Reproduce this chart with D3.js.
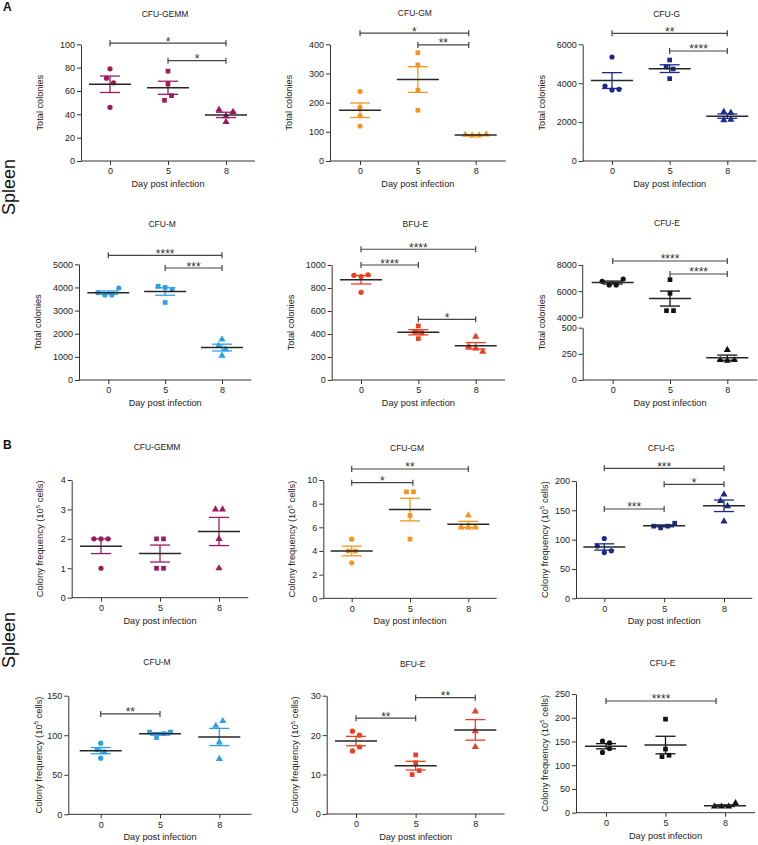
<!DOCTYPE html>
<html><head><meta charset="utf-8">
<script src="https://cdn.jsdelivr.net/npm/d3@7"></script>
<style>body{margin:0;background:#fff} text{font-family:"Liberation Sans",Arial,sans-serif}</style>
</head><body><svg id="c" width="758" height="845"></svg>
<script>
const days = ["0", "5", "8"];
const panelTitles = ["CFU-GEMM", "CFU-GM", "CFU-G", "CFU-M", "BFU-E", "CFU-E"];
const colors = ["#9B1B5E", "#F7941D", "#1A2A8C", "#2B9FE8", "#EE3D23", "#111111"];

// Panel A: total colonies (per day group: 0, 5, 8)
const totalGEMM = [[79, 71, 67, 46], [77, 66, 52, 56], [44, 38.5, 42, 33.5]];
const totalGM   = [[238, 183, 155, 120], [371, 329, 243, 174], [90, 87, 88, 91]];
const totalG    = [[5349, 3857, 3651, 3686], [5194, 4834, 4731, 4234], [2520, 2480, 2100, 2120]];
const totalM    = [[3775, 3674, 3674, 3977], [4050, 4000, 3900, 3350], [1758, 1470, 1326, 1052]];
const totalBFUE = [[910, 900, 915, 762], [470, 420, 410, 360], [377, 290, 275, 247]];
const totalE    = [[6752, 6471, 6471, 6930], [6879, 5834, 4510, 4510], [287, 191, 185, 191]];

// Panel B: colony frequency (per 10^5 cells)
const freqGEMM = [[2, 2, 2, 1], [2, 2, 1, 1], [3, 3, 2, 1]];
const freqGM   = [[5, 4, 4, 3], [9, 9, 7, 5], [7, 6, 6, 6]];
const freqG    = [[102, 89, 78, 81], [123, 120, 123, 128], [177, 166, 157, 131]];
const freqM    = [[90, 82, 79, 71], [104, 97, 102, 104], [112, 118, 91, 70]];
const freqBFUE = [[21, 20, 16, 17], [15, 13, 10, 11], [26, 21, 17]];
const freqE    = [[151, 147, 127, 135], [197, 134, 118, 121], [13, 13, 13, 20]];

// Y tick labels
const ticksTotalGEMM = [0, 20, 40, 60, 80, 100];
const ticksTotalGM = [0, 100, 200, 300, 400];
const ticksTotalG = [0, 2000, 4000, 6000];
const ticksTotalM = [0, 1000, 2000, 3000, 4000, 5000];
const ticksTotalBFUE = [0, 200, 400, 600, 800, 1000];
const ticksTotalEUpper = [4000, 6000, 8000];
const ticksTotalELower = [0, 250, 500];
const ticksFreqGEMM = [0, 1, 2, 3, 4];
const ticksFreqGM = [0, 2, 4, 6, 8, 10];
const ticksFreqG = [0, 50, 100, 150, 200];
const ticksFreqM = [0, 50, 100, 150];
const ticksFreqBFUE = [0, 10, 20, 30];
const ticksFreqE = [0, 50, 100, 150, 200, 250];

// Significance brackets: [from group, to group, label, level (data units)]
const sigTotalGEMM = [[0, 2, "*", 101], [1, 2, "*", 86]];
const sigTotalGM = [[0, 1.88, "*", 438], [1, 1.88, "**", 398]];
const sigTotalG = [[0, 2, "**", 6566], [1, 2, "****", 5656]];
const sigTotalM = [[0, 2, "****", 5386], [1, 2, "***", 4840]];
const sigTotalBFUE = [[0, 2, "****", 1137], [0, 1, "****", 1000], [1, 2, "*", 528]];
const sigTotalE = [[0, 2, "****", 8306], [1, 2, "****", 7312]];
const sigFreqGEMM = [];
const sigFreqGM = [[0, 2, "**", 10.93], [0, 1.05, "*", 9.77]];
const sigFreqG = [[0, 2, "***", 221.6], [1, 2, "*", 194.4], [0, 1, "***", 152.3]];
const sigFreqM = [[0, 1, "**", 126.9]];
const sigFreqBFUE = [[0, 1, "**", 24.3], [1, 2, "**", 29.5]];
const sigFreqE = [[0, 1.85, "****", 235.3]];

// ---- layout (positions only) ----
const layout = [
  {left: 81, x0: 110, x2: 226, top: 44.3, bottom: 161, titleY: 14, ylx: 41},
  {left: 330, x0: 360, x2: 475.7, top: 44.3, bottom: 161, titleY: 13, ylx: 41},
  {left: 582.7, x0: 612, x2: 727.3, top: 44.3, bottom: 161, titleY: 13.5, ylx: 41},
  {left: 79, x0: 108.3, x2: 222, top: 264.3, bottom: 380, titleY: 224, ylx: 41},
  {left: 331.7, x0: 361, x2: 475.7, top: 265, bottom: 380, titleY: 224, ylx: 41},
  {left: 582.7, x0: 612.7, x2: 727.3, top: 265, bottom: 380, titleY: 223, ylx: 41, brk: [317.3, 327.7]},
  {left: 71.7, x0: 101, x2: 219, top: 480, bottom: 597.7, titleY: 446.7, ylx: 31.5},
  {left: 323.3, x0: 351.7, x2: 468.3, top: 480, bottom: 598.3, titleY: 447.7, ylx: 31.5},
  {left: 576, x0: 604.3, x2: 724, top: 481, bottom: 598.3, titleY: 447.7, ylx: 31.5},
  {left: 68.3, x0: 100.7, x2: 219.3, top: 695.7, bottom: 814.3, titleY: 661.7, ylx: 30},
  {left: 326.7, x0: 356, x2: 475.3, top: 695.7, bottom: 814, titleY: 664.3, ylx: 31.5},
  {left: 576, x0: 606, x2: 725, top: 694, bottom: 812.7, titleY: 662.7, ylx: 31.5}
];

const panels = [
  {data: totalGEMM, ticks: ticksTotalGEMM, sig: sigTotalGEMM},
  {data: totalGM, ticks: ticksTotalGM, sig: sigTotalGM},
  {data: totalG, ticks: ticksTotalG, sig: sigTotalG},
  {data: totalM, ticks: ticksTotalM, sig: sigTotalM},
  {data: totalBFUE, ticks: ticksTotalBFUE, sig: sigTotalBFUE},
  {data: totalE, ticks: ticksTotalEUpper, ticksLow: ticksTotalELower, sig: sigTotalE},
  {data: freqGEMM, ticks: ticksFreqGEMM, sig: sigFreqGEMM},
  {data: freqGM, ticks: ticksFreqGM, sig: sigFreqGM},
  {data: freqG, ticks: ticksFreqG, sig: sigFreqG},
  {data: freqM, ticks: ticksFreqM, sig: sigFreqM},
  {data: freqBFUE, ticks: ticksFreqBFUE, sig: sigFreqBFUE},
  {data: freqE, ticks: ticksFreqE, sig: sigFreqE}
];

const svg = d3.select("#c");
const AX = "#333";
const fmt = d3.format("d");
const symbols = [d3.symbol(d3.symbolCircle, 21), d3.symbol(d3.symbolSquare, 22), d3.symbol(d3.symbolTriangle, 22)];

function spread(vals, yMap, thr = 5.5, sp = 7) {
  const idx = vals.map((v, i) => i).sort((a, b) => vals[a] - vals[b]);
  const clusters = [];
  let cur = [idx[0]];
  for (let k = 1; k < idx.length; k++) {
    if (Math.abs(yMap(vals[idx[k]]) - yMap(vals[idx[k - 1]])) < thr) cur.push(idx[k]);
    else { clusters.push(cur); cur = [idx[k]]; }
  }
  clusters.push(cur);
  const off = new Array(vals.length).fill(0);
  clusters.forEach(c => { c.sort((a, b) => a - b); c.forEach((id, j) => off[id] = (j - (c.length - 1) / 2) * sp); });
  return off;
}

function styleAxis(sel) {
  sel.selectAll("path,line").attr("stroke", AX).attr("stroke-width", 1);
  sel.selectAll("text").attr("fill", "#222").attr("font-size", 9).attr("font-family", '"Liberation Sans",Arial,sans-serif');
}

panels.forEach((p, pi) => {
  const L = layout[pi];
  const isB = pi >= 6;
  const color = colors[pi % 6];
  const g = svg.append("g");
  const x = d3.scalePoint().domain(days).range([L.x0, L.x2]);
  const xi = i => L.x0 + i * x.step();
  const xEnd = L.x2 + (L.x0 - L.left);

  let yMap;
  if (L.brk) {
    const yU = d3.scaleLinear().domain([p.ticks[0], p.ticks[p.ticks.length - 1]]).range([L.brk[0], L.top]);
    const yL = d3.scaleLinear().domain([p.ticksLow[0], p.ticksLow[p.ticksLow.length - 1]]).range([L.bottom, L.brk[1]]);
    yMap = v => v >= 2000 ? yU(v) : yL(v);
    g.append("g").attr("transform", `translate(${L.left},0)`).call(d3.axisLeft(yU).tickValues(p.ticks).tickFormat(fmt).tickSize(4).tickSizeOuter(0).tickPadding(2)).call(styleAxis).select(".domain").attr("d", `M0,${L.brk[0]}V${L.top}`);
    g.append("g").attr("transform", `translate(${L.left},0)`).call(d3.axisLeft(yL).tickValues(p.ticksLow).tickFormat(fmt).tickSize(4).tickSizeOuter(0).tickPadding(2)).call(styleAxis);
  } else {
    const y = d3.scaleLinear().domain([p.ticks[0], p.ticks[p.ticks.length - 1]]).range([L.bottom, L.top]);
    yMap = y;
    g.append("g").attr("transform", `translate(${L.left},0)`).call(d3.axisLeft(y).tickValues(p.ticks).tickFormat(fmt).tickSize(4).tickSizeOuter(0).tickPadding(2)).call(styleAxis);
  }
  // x axis
  const xa = g.append("g").attr("transform", `translate(0,${L.bottom})`).call(d3.axisBottom(x).tickSize(4).tickSizeOuter(0).tickPadding(3)).call(styleAxis);
  xa.select(".domain").attr("d", `M${L.left},0H${xEnd}`);

  // titles & labels
  g.append("text").attr("x", xi(1) - 3).attr("y", L.titleY + 3).attr("text-anchor", "middle").attr("font-size", 8.5).attr("fill", "#222").text(panelTitles[pi % 6]);
  g.append("text").attr("x", xi(1)).attr("y", L.bottom + 26).attr("text-anchor", "middle").attr("font-size", 9.2).attr("fill", "#222").text("Day post infection");
  const yl = g.append("text").attr("transform", `translate(${L.left - L.ylx},${(L.top + L.bottom) / 2}) rotate(-90)`).attr("text-anchor", "middle").attr("dy", "0.35em").attr("font-size", isB ? 9.4 : 9.2).attr("fill", "#222");
  if (isB) {
    yl.append("tspan").text("Colony frequency (10");
    yl.append("tspan").attr("font-size", 6).attr("dy", -3.5).text("5");
    yl.append("tspan").attr("dy", 3.5).text(" cells)");
  } else yl.text("Total colonies");

  // points
  p.data.forEach((vals, gi) => {
    const off = spread(vals, yMap);
    vals.forEach((v, k) => {
      g.append("path").attr("d", symbols[gi]()).attr("fill", color)
        .attr("transform", `translate(${xi(gi) + off[k]},${yMap(v)})`);
    });
  });
  // error bars and means
  p.data.forEach((vals, gi) => {
    const m = d3.mean(vals), s = d3.deviation(vals) / Math.sqrt(vals.length);
    const cx = xi(gi);
    const yHi = yMap(m + s), yLo = yMap(m - s);
    g.append("line").attr("x1", cx).attr("x2", cx).attr("y1", yHi).attr("y2", yLo).attr("stroke", color).attr("stroke-width", 1.3);
    [yHi, yLo].forEach(yy => g.append("line").attr("x1", cx - 10).attr("x2", cx + 10).attr("y1", yy).attr("y2", yy).attr("stroke", color).attr("stroke-width", 1.3));
    g.append("line").attr("x1", cx - 21).attr("x2", cx + 21).attr("y1", yMap(m)).attr("y2", yMap(m)).attr("stroke", "#262626").attr("stroke-width", 1.5);
  });
  // significance brackets
  p.sig.forEach(([a, b, lab, lev]) => {
    const yy = yMap(lev), xa1 = xi(a), xb = xi(b);
    g.append("line").attr("x1", xa1).attr("x2", xb).attr("y1", yy).attr("y2", yy).attr("stroke", "#444").attr("stroke-width", 1.2);
    [xa1, xb].forEach(xx => g.append("line").attr("x1", xx).attr("x2", xx).attr("y1", yy - 3).attr("y2", yy + 3).attr("stroke", "#444").attr("stroke-width", 1.2));
    g.append("text").attr("x", (xa1 + xb) / 2).attr("y", yy + 2.5).attr("text-anchor", "middle").attr("font-size", 12).attr("fill", "#333").text(lab);
  });
});

// panel letters and side labels
svg.append("text").attr("x", 3).attr("y", 11).attr("font-size", 12).attr("font-weight", "bold").attr("fill", "#111").text("A");
svg.append("text").attr("x", 3).attr("y", 449).attr("font-size", 12).attr("font-weight", "bold").attr("fill", "#111").text("B");
[187, 640].forEach(cy => svg.append("text").attr("transform", `translate(9,${cy}) rotate(-90)`).attr("text-anchor", "middle").attr("dy", "0.35em").attr("font-size", 18).attr("fill", "#111").text("Spleen"));
</script>
</body></html>
